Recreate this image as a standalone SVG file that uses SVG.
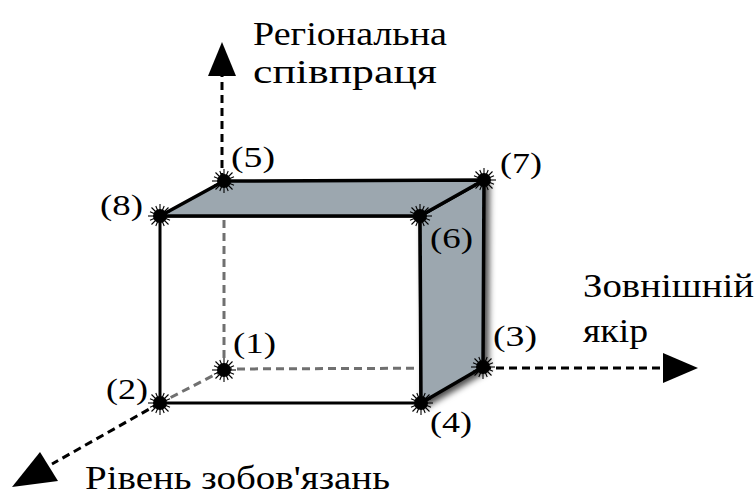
<svg xmlns="http://www.w3.org/2000/svg" xmlns:xlink="http://www.w3.org/1999/xlink" width="756" height="495" viewBox="0 0 756 495">
<style>
.face{fill:#9ca7af;stroke:#000;stroke-width:3.5;stroke-linejoin:round}
.edge{fill:none;stroke:#000;stroke-width:3}
.hid{fill:none;stroke:#707070;stroke-width:3;stroke-dasharray:8 5}
.axis{fill:none;stroke:#000;stroke-width:3;stroke-dasharray:8 5}
.head{fill:#000}
</style>
<defs>
<filter id="sh" x="-20%" y="-20%" width="150%" height="150%">
<feDropShadow dx="4" dy="3" stdDeviation="3" flood-color="#000" flood-opacity="0.7"/>
</filter>
<g id="star">
<g stroke="#000" stroke-width="1.1">
<line x1="0" y1="-12" x2="0" y2="12"/>
<line x1="-12" y1="0" x2="12" y2="0"/>
<line x1="-8.5" y1="-8.5" x2="8.5" y2="8.5"/>
<line x1="-8.5" y1="8.5" x2="8.5" y2="-8.5"/>
<line x1="-4.2" y1="-10" x2="4.2" y2="10"/>
<line x1="4.2" y1="-10" x2="-4.2" y2="10"/>
<line x1="-10" y1="-4.2" x2="10" y2="4.2"/>
<line x1="-10" y1="4.2" x2="10" y2="-4.2"/>
</g>
<circle r="7" fill="#000"/>
</g>
</defs>
<g id="connectors">
<line class="hid" x1="224" y1="181" x2="224" y2="370"/>
<line class="hid" x1="224" y1="369" x2="483" y2="368"/>
<line class="hid" x1="224" y1="370" x2="160" y2="403"/>
<line class="axis" x1="222" y1="181" x2="222" y2="76"/>
<polygon class="head" points="222,42 236,76 208,76"/>
<line class="axis" x1="483" y1="368" x2="664" y2="368"/>
<polygon class="head" points="698,368 663,353 663,383"/>
<line class="axis" x1="160" y1="403" x2="52" y2="464"/>
<polygon class="head" points="12,487 40,452 58,481"/>
</g>
<g id="face-front">
<polygon class="edge" points="160,216 420,216 421,403 160,403"/>
</g>
<g id="face-right">
<polygon class="face" filter="url(#sh)" points="420,216 484,180 483,367 421,403"/>
</g>
<g id="face-top">
<polygon class="face" points="160,216 224,181 484,180 420,216"/>
</g>
<g font-family="Liberation Serif, DejaVu Serif, serif" font-size="29" fill="#000">
<g id="n1"><use xlink:href="#star" x="224" y="370"/><text x="233" y="353" textLength="43" lengthAdjust="spacingAndGlyphs">(1)</text></g>
<g id="n2"><use xlink:href="#star" x="160" y="403"/><text x="106" y="399" textLength="42" lengthAdjust="spacingAndGlyphs">(2)</text></g>
<g id="n3"><use xlink:href="#star" x="483" y="367"/><text x="493" y="346" textLength="44" lengthAdjust="spacingAndGlyphs">(3)</text></g>
<g id="n4"><use xlink:href="#star" x="421" y="403"/><text x="430" y="432" textLength="42" lengthAdjust="spacingAndGlyphs">(4)</text></g>
<g id="n5"><use xlink:href="#star" x="224" y="181"/><text x="231" y="167" textLength="44" lengthAdjust="spacingAndGlyphs">(5)</text></g>
<g id="n6"><use xlink:href="#star" x="420" y="216"/><text x="430" y="248" textLength="43" lengthAdjust="spacingAndGlyphs">(6)</text></g>
<g id="n7"><use xlink:href="#star" x="484" y="180"/><text x="500" y="173" textLength="42" lengthAdjust="spacingAndGlyphs">(7)</text></g>
<g id="n8"><use xlink:href="#star" x="160" y="216"/><text x="100" y="215" textLength="43" lengthAdjust="spacingAndGlyphs">(8)</text></g>
</g>
<g id="axis-labels" font-family="Liberation Serif, DejaVu Serif, serif" font-size="34" fill="#000">
<text x="253" y="45" textLength="194" lengthAdjust="spacingAndGlyphs">Регіональна</text>
<text x="253" y="83" textLength="184" lengthAdjust="spacingAndGlyphs">співпраця</text>
<text x="583" y="297" textLength="171" lengthAdjust="spacingAndGlyphs">Зовнішній</text>
<text x="583" y="342" textLength="65" lengthAdjust="spacingAndGlyphs">якір</text>
<text x="85" y="489" textLength="305" lengthAdjust="spacingAndGlyphs">Рівень зобов'язань</text>
</g>
</svg>
